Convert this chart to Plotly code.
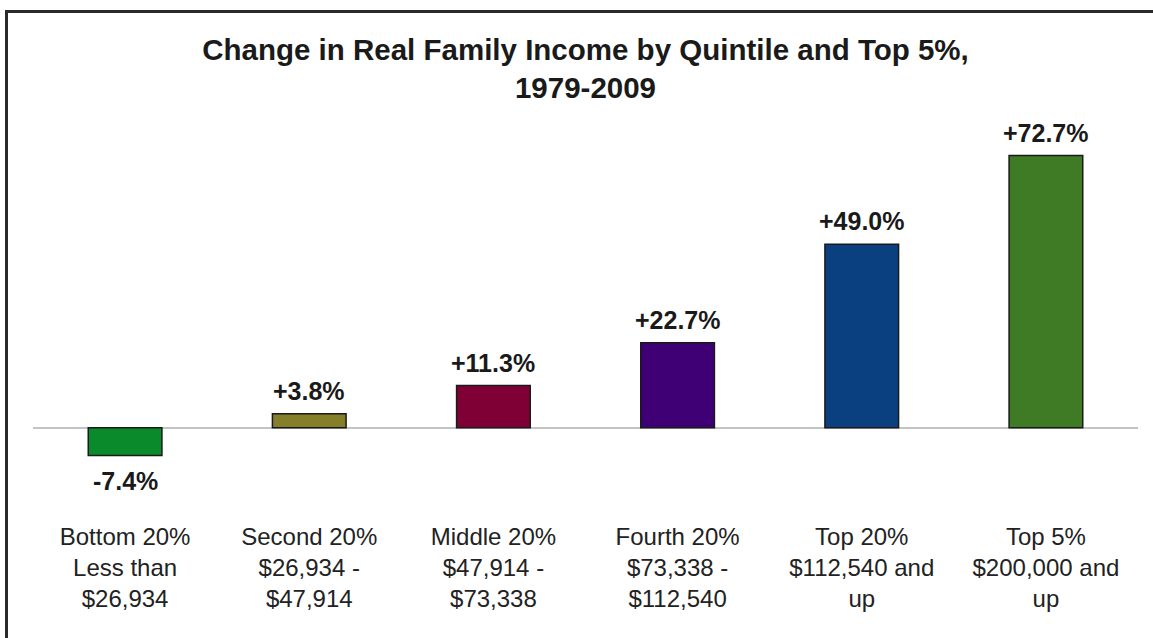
import plotly.graph_objects as go

categories = [
    "Bottom 20%<br>Less than<br>$26,934",
    "Second 20%<br>$26,934 -<br>$47,914",
    "Middle 20%<br>$47,914 -<br>$73,338",
    "Fourth 20%<br>$73,338 -<br>$112,540",
    "Top 20%<br>$112,540 and<br>up",
    "Top 5%<br>$200,000 and<br>up",
]
values = [-7.4, 3.8, 11.3, 22.7, 49.0, 72.7]
colors = ["#0b8a2c", "#857f2a", "#7e0034", "#3f0076", "#0a3f80", "#3f7a25"]
labels = [f"{v:+.1f}%" for v in values]

W, H = 1153, 638
ml, mr, mt, mb = 33, 15, 147, 124
y_range = [-23, 75]
FONT = "Liberation Sans, Arial, sans-serif"

xs = list(range(len(categories)))

fig = go.Figure(go.Bar(
    x=xs,
    y=values,
    marker=dict(color=colors, line=dict(color="#1a1a1a", width=1.5)),
    width=0.4,
    hoverinfo="skip",
))

annotations = []
for x, v, lab in zip(xs, values, labels):
    annotations.append(dict(
        x=x, y=v, xref="x", yref="y", text=lab, showarrow=False,
        font=dict(family=FONT, size=25, color="#1a1a1a", weight="bold"),
        xanchor="center",
        yanchor="bottom" if v >= 0 else "top",
        yshift=7 if v >= 0 else -9,
    ))

pw = W - ml - mr
ph = H - mt - mb
def px_to_paper_x(px):
    return (px - ml) / pw
def px_to_paper_y(py):
    return (H - mb - py) / ph

fig.update_layout(
    width=W, height=H,
    margin=dict(l=ml, r=mr, t=mt, b=mb, pad=0),
    paper_bgcolor="white", plot_bgcolor="white",
    showlegend=False,
    font=dict(family=FONT, color="#1a1a1a"),
    title=dict(
        text="Change in Real Family Income by Quintile and Top 5%,<br>1979-2009",
        font=dict(size=29.5, color="#1a1a1a", weight="bold"),
        x=0.5, xref="paper", xanchor="center",
        y=1 - 60 / H, yref="container", yanchor="top",
    ),
    xaxis=dict(
        range=[-0.5, len(categories) - 0.5],
        tickmode="array",
        tickvals=xs,
        ticktext=categories,
        tickfont=dict(size=24, color="#222222"),
        ticklabelstandoff=6,
        showgrid=False, zeroline=False, showline=False, ticks="",
        fixedrange=True,
    ),
    yaxis=dict(
        range=y_range,
        showgrid=False, showticklabels=False, ticks="",
        zeroline=True, zerolinecolor="#c4c4c4", zerolinewidth=2,
        showline=False, fixedrange=True,
    ),
    annotations=annotations,
    shapes=[
        dict(type="line", xref="paper", yref="paper",
             x0=px_to_paper_x(6.5), x1=px_to_paper_x(W + 10),
             y0=px_to_paper_y(11.5), y1=px_to_paper_y(11.5),
             line=dict(color="#2a2a2a", width=3)),
        dict(type="line", xref="paper", yref="paper",
             x0=px_to_paper_x(6.5), x1=px_to_paper_x(6.5),
             y0=px_to_paper_y(10), y1=px_to_paper_y(H + 10),
             line=dict(color="#2a2a2a", width=3)),
    ],
)

fig.write_html(
    "out.html",
    config={"displayModeBar": False},
    post_script="document.body.style.margin='0';",
)
